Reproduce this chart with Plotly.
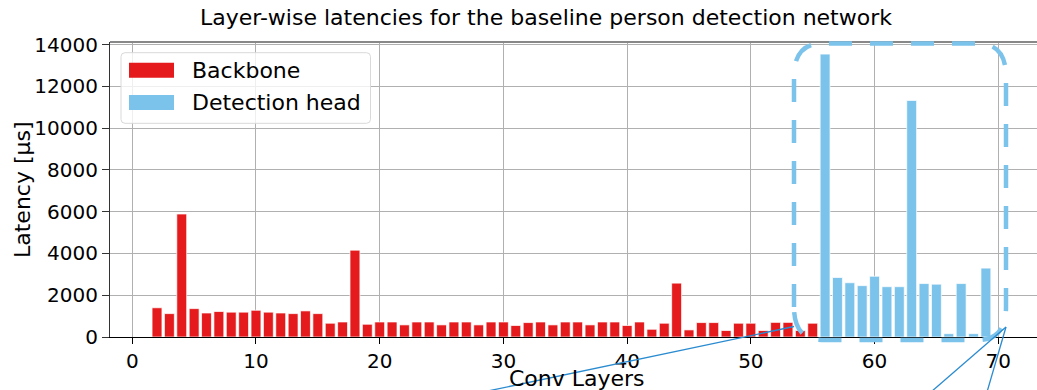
import plotly.graph_objects as go

# ---- data ----
backbone_layers = list(range(2, 56))
backbone_latency = [1400, 1120, 5890, 1360, 1150, 1220, 1190, 1190, 1280, 1190,
                    1150, 1120, 1250, 1120, 660, 720, 4160, 610, 720, 720,
                    580, 720, 720, 580, 720, 720, 580, 720, 720, 550,
                    690, 720, 580, 720, 720, 580, 720, 720, 550, 720,
                    370, 660, 2580, 340, 690, 690, 310, 660, 660, 310,
                    700, 700, 310, 660]
head_layers = list(range(56, 70))
head_latency = [13550, 2850, 2600, 2460, 2910, 2410, 2410, 11330, 2560, 2530,
                160, 2560, 160, 3300]

x_ticks = [0, 10, 20, 30, 40, 50, 60, 70]
y_ticks = [0, 2000, 4000, 6000, 8000, 10000, 12000, 14000]

title_text = "Layer-wise latencies for the baseline person detection network"
x_label = "Conv Layers"
y_label = "Latency [µs]"
legend_names = ["Backbone", "Detection head"]

RED = "#e41a1c"
BLUE = "#7cc3eb"
FONT = "DejaVu Sans"

W, H = 1037, 390
L, T, B, R = 110, 42, 53, 0
PW, PH = W - L - R, H - T - B


def px(x):
    return (x - L) / PW


def py(y):
    return (H - B - y) / PH


fig = go.Figure()
fig.add_trace(go.Bar(x=backbone_layers, y=backbone_latency, width=0.8, name=legend_names[0],
                     marker=dict(color=RED, line=dict(color="rgba(255,255,255,0.7)", width=1)),
                     showlegend=False))
fig.add_trace(go.Bar(x=head_layers, y=head_latency, width=0.8, name=legend_names[1],
                     marker=dict(color=BLUE, line=dict(color="rgba(255,255,255,0.7)", width=1)),
                     showlegend=False))

shapes = []
# top frame line
shapes.append(dict(type="line", xref="paper", yref="paper", x0=0, x1=1, y0=1, y1=1,
                   line=dict(color="#888888", width=2), layer="above"))

# dashed rounded box around detection head
x1, x2, y1, y2, rx, ry = 794, 1006, 43.5, 340, 28, 33
pts = [("M", [(x1, y2 - ry)]), ("L", [(x1, y1 + ry)]), ("Q", [(x1, y1), (x1 + rx, y1)]),
       ("L", [(x2 - rx, y1)]), ("Q", [(x2, y1), (x2, y1 + ry)]), ("L", [(x2, y2 - ry)]),
       ("Q", [(x2, y2), (x2 - rx, y2)]), ("L", [(x1 + rx, y2)]), ("Q", [(x1, y2), (x1, y2 - ry)])]
path = ""
for cmd, plist in pts:
    path += cmd + " " + " ".join(f"{px(a):.5f},{py(b):.5f}" for a, b in plist) + " "
path += "Z"
shapes.append(dict(type="path", xref="paper", yref="paper", path=path,
                   line=dict(color=BLUE, width=4.5, dash="23px,18px"), layer="above"))

# thin pointer lines
for (a0, b0, a1, b1) in [(483, 392, 794, 326.5), (931, 392, 1006, 327), (987, 392, 1006, 327)]:
    shapes.append(dict(type="line", xref="paper", yref="paper", x0=px(a0), y0=py(b0),
                       x1=px(a1), y1=py(b1), line=dict(color="#2a8bd0", width=1.3), layer="above"))

# legend (manual)
lx0, lx1, ly0, ly1, r = 121, 370.5, 52.7, 123.3, 4
lpath = (f"M {px(lx0+r)},{py(ly0)} L {px(lx1-r)},{py(ly0)} Q {px(lx1)},{py(ly0)} {px(lx1)},{py(ly0+r)} "
         f"L {px(lx1)},{py(ly1-r)} Q {px(lx1)},{py(ly1)} {px(lx1-r)},{py(ly1)} "
         f"L {px(lx0+r)},{py(ly1)} Q {px(lx0)},{py(ly1)} {px(lx0)},{py(ly1-r)} "
         f"L {px(lx0)},{py(ly0+r)} Q {px(lx0)},{py(ly0)} {px(lx0+r)},{py(ly0)} Z")
shapes.append(dict(type="path", xref="paper", yref="paper", path=lpath,
                   fillcolor="rgba(255,255,255,0.8)", line=dict(color="#d9d9d9", width=1), layer="above"))
for (c, yy0, yy1) in [(RED, 62.7, 77.7), (BLUE, 95, 110)]:
    shapes.append(dict(type="rect", xref="paper", yref="paper", x0=px(129), x1=px(174),
                       y0=py(yy1), y1=py(yy0), fillcolor=c, line=dict(width=0), layer="above"))

annotations = []
for name, yc in zip(legend_names, [70.5, 103]):
    annotations.append(dict(text=name, xref="paper", yref="paper", x=px(190), y=py(yc),
                            xanchor="left", yanchor="middle", showarrow=False,
                            font=dict(family=FONT, size=22, color="black")))
annotations.append(dict(text=x_label, xref="paper", yref="paper", x=px(576.5), y=py(378),
                        xanchor="center", yanchor="middle", showarrow=False,
                        font=dict(family=FONT, size=22, color="black")))
annotations.append(dict(text=y_label, xref="paper", yref="paper", x=px(22), y=py(190),
                        xanchor="center", yanchor="middle", showarrow=False, textangle=-90,
                        font=dict(family=FONT, size=22, color="black")))
annotations.append(dict(text=title_text, xref="paper", yref="paper", x=px(545.5), y=py(17),
                        xanchor="center", yanchor="middle", showarrow=False,
                        font=dict(family=FONT, size=22, color="black")))

fig.update_layout(
    width=W, height=H, autosize=False,
    margin=dict(l=L, r=R, t=T, b=B, pad=0),
    paper_bgcolor="white", plot_bgcolor="white",
    barmode="overlay",
    font=dict(family=FONT, size=20, color="black"),
    shapes=shapes, annotations=annotations,
    showlegend=False,
)
fig.update_xaxes(range=[-1.8, 73.13], tickvals=x_ticks, showgrid=True, gridcolor="#b0b0b0", gridwidth=1,
                 zeroline=False, showline=True, linecolor="black", linewidth=1.2,
                 ticks="outside", ticklen=6, tickcolor="black", tickfont=dict(size=20))
fig.update_yaxes(range=[0, 14130], tickvals=y_ticks, tickformat="d", showgrid=True, gridcolor="#b0b0b0",
                 gridwidth=1, zeroline=False, showline=True, linecolor="#333333", linewidth=1.2,
                 ticks="outside", ticklen=7, tickcolor="#333333", tickfont=dict(size=20))

fig.write_html("out.html", config={"displayModeBar": False},
               post_script="document.body.style.margin='0px';document.body.style.overflow='hidden';")
